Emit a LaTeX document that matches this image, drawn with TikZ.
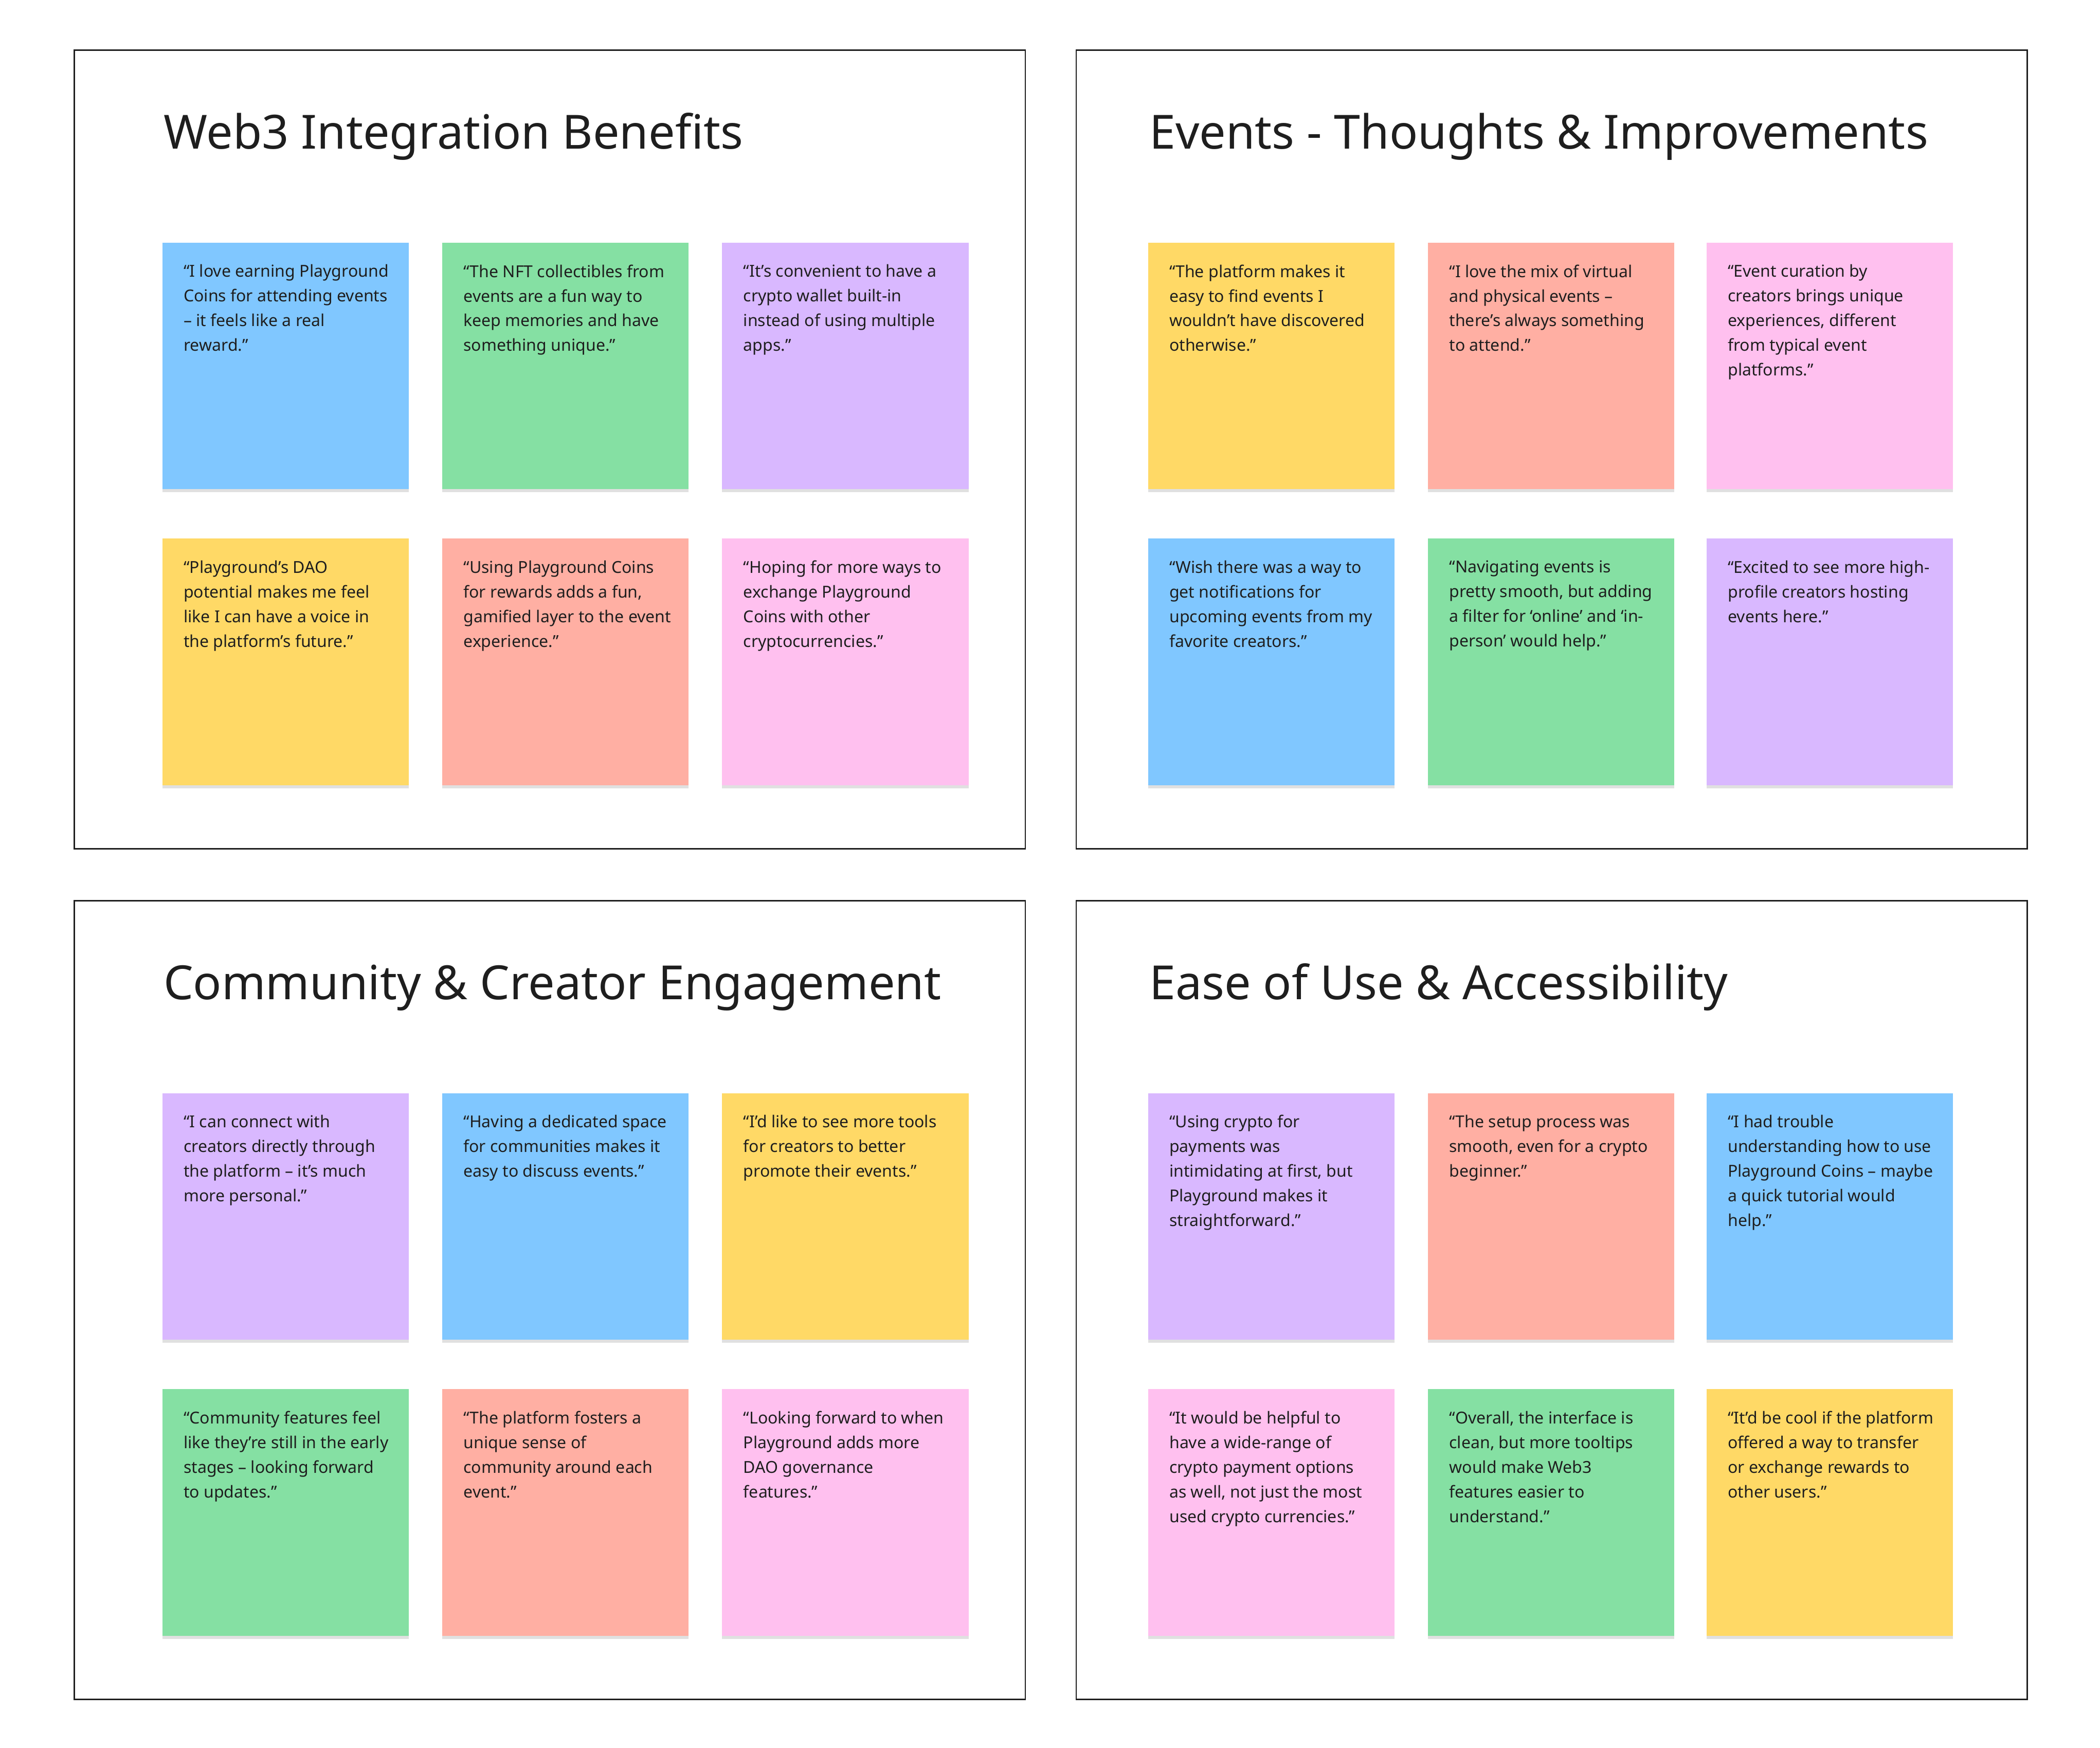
\documentclass[tikz,border=0pt]{standalone}
\usepackage{fontspec}
\setmainfont{Noto Sans}
\usetikzlibrary{shadows}
\definecolor{cblue}{HTML}{80C7FF}
\definecolor{cgreen}{HTML}{85E0A3}
\definecolor{cpurple}{HTML}{D9B8FF}
\definecolor{cyellow}{HTML}{FFD966}
\definecolor{csalmon}{HTML}{FFAFA3}
\definecolor{cpink}{HTML}{FFC0EF}
\definecolor{ink}{HTML}{1E1E1E}
\tikzset{
 frame/.style={draw=ink,line width=1.6pt,fill=white},
 note/.style={anchor=north west,minimum width=92mm,minimum height=92mm,inner sep=0,
   drop shadow={shadow xshift=0mm,shadow yshift=-1.2mm,opacity=0.12,fill=black}},
 notetext/.style={anchor=north west,align=left,inner sep=0,text=ink,
   font=\fontsize{17.5pt}{26.2pt}\selectfont},
 title/.style={anchor=base west,inner sep=0,text=ink,font=\fontsize{50pt}{60pt}\selectfont}
}
\newcommand{\mynote}[5]{%
 \node[note,fill=#4] (#1) at (#2,#3) {};
 \node[notetext] (#1t) at ([xshift=8mm,yshift=-8.2mm]#1.north west) {#5};}
\begin{document}
\begin{tikzpicture}[x=0.5mm,y=-0.5mm]
\useasboundingbox[fill=white] (0,0) rectangle (1568,1305);
\node[frame,anchor=north west,minimum width=355mm,minimum height=298mm] (f1) at (55,37) {};
\node[frame,anchor=north west,minimum width=355mm,minimum height=298mm] (f2) at (803,37) {};
\node[frame,anchor=north west,minimum width=355mm,minimum height=298mm] (f3) at (55,672) {};
\node[frame,anchor=north west,minimum width=355mm,minimum height=298mm] (f4) at (803,672) {};
\node[title] (t1) at (122,111) {Web3 Integration Benefits};
\node[title] (t2) at (858,111) {Events - Thoughts \& Improvements};
\node[title] (t3) at (122,746) {Community \& Creator Engagement};
\node[title] (t4) at (858,746) {Ease of Use \& Accessibility};
% TL
\mynote{a1}{121}{181}{cblue}{“I love earning Playground\\Coins for attending events\\– it feels like a real\\reward.”}
\mynote{a2}{330}{181}{cgreen}{“The NFT collectibles from\\events are a fun way to\\keep memories and have\\something unique.”}
\mynote{a3}{539}{181}{cpurple}{“It’s convenient to have a\\crypto wallet built-in\\instead of using multiple\\apps.”}
\mynote{a4}{121}{402}{cyellow}{“Playground's DAO\\potential makes me feel\\like I can have a voice in\\the platform’s future.”}
\mynote{a5}{330}{402}{csalmon}{“Using Playground Coins\\for rewards adds a fun,\\gamified layer to the event\\experience.”}
\mynote{a6}{539}{402}{cpink}{“Hoping for more ways to\\exchange Playground\\Coins with other\\cryptocurrencies.”}
% TR
\mynote{b1}{857}{181}{cyellow}{“The platform makes it\\easy to find events I\\wouldn’t have discovered\\otherwise.”}
\mynote{b2}{1066}{181}{csalmon}{“I love the mix of virtual\\and physical events –\\there's always something\\to attend.”}
\mynote{b3}{1274}{181}{cpink}{“Event curation by\\creators brings unique\\experiences, different\\from typical event\\platforms.”}
\mynote{b4}{857}{402}{cblue}{“Wish there was a way to\\get notifications for\\upcoming events from my\\favorite creators.”}
\mynote{b5}{1066}{402}{cgreen}{“Navigating events is\\pretty smooth, but adding\\a filter for ‘online’ and ‘in-\\person’ would help.”}
\mynote{b6}{1274}{402}{cpurple}{“Excited to see more high-\\profile creators hosting\\events here.”}
% BL
\mynote{c1}{121}{816}{cpurple}{“I can connect with\\creators directly through\\the platform – it’s much\\more personal.”}
\mynote{c2}{330}{816}{cblue}{“Having a dedicated space\\for communities makes it\\easy to discuss events.”}
\mynote{c3}{539}{816}{cyellow}{“I'd like to see more tools\\for creators to better\\promote their events.”}
\mynote{c4}{121}{1037}{cgreen}{“Community features feel\\like they’re still in the early\\stages – looking forward\\to updates.”}
\mynote{c5}{330}{1037}{csalmon}{“The platform fosters a\\unique sense of\\community around each\\event.”}
\mynote{c6}{539}{1037}{cpink}{“Looking forward to when\\Playground adds more\\DAO governance\\features.”}
% BR
\mynote{d1}{857}{816}{cpurple}{“Using crypto for\\payments was\\intimidating at first, but\\Playground makes it\\straightforward.”}
\mynote{d2}{1066}{816}{csalmon}{“The setup process was\\smooth, even for a crypto\\beginner.”}
\mynote{d3}{1274}{816}{cblue}{“I had trouble\\understanding how to use\\Playground Coins – maybe\\a quick tutorial would\\help.”}
\mynote{d4}{857}{1037}{cpink}{“It would be helpful to\\have a wide-range of\\crypto payment options\\as well, not just the most\\used crypto currencies.”}
\mynote{d5}{1066}{1037}{cgreen}{“Overall, the interface is\\clean, but more tooltips\\would make Web3\\features easier to\\understand.”}
\mynote{d6}{1274}{1037}{cyellow}{“It’d be cool if the platform\\offered a way to transfer\\or exchange rewards to\\other users.”}
\end{tikzpicture}
\end{document}
